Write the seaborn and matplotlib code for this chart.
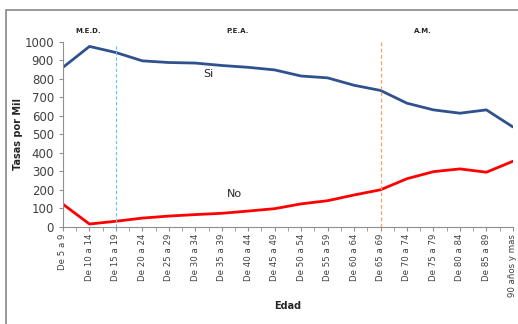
import pandas as pd
import numpy as np
import matplotlib
matplotlib.use('Agg')
from matplotlib import pyplot as plt
from matplotlib.patches import Rectangle
from matplotlib.ticker import MultipleLocator
import seaborn as sns

sns.set_style('white')
plt.rcParams['font.family'] = ['DejaVu Sans']

# datos
edades = ['De 5 a 9', 'De 10 a 14', 'De 15 a 19', 'De 20 a 24', 'De 25 a 29',
          'De 30 a 34', 'De 35 a 39', 'De 40 a 44', 'De 45 a 49', 'De 50 a 54',
          'De 55 a 59', 'De 60 a 64', 'De 65 a 69', 'De 70 a 74', 'De 75 a 79',
          'De 80 a 84', 'De 85 a 89', '90 años y mas']
si = [862, 975, 942, 897, 888, 885, 872, 862, 848, 815,
      805, 765, 737, 668, 632, 614, 632, 540]
no = [122, 15, 30, 47, 58, 66, 73, 85, 98, 124,
      141, 172, 200, 260, 298, 313, 295, 354]
grupos = ['M.E.D.', 'P.E.A.', 'A.M.']

df = pd.DataFrame({'pos': np.arange(len(edades)), 'Si': si, 'No': no})

fig = plt.figure(figsize=(5.18, 3.24), dpi=100)
ax = fig.add_axes([0.1216, 0.300, 0.8684, 0.571])

sns.lineplot(data=df, x='pos', y='Si', ax=ax, color='#2F528F', linewidth=2)
sns.lineplot(data=df, x='pos', y='No', ax=ax, color='#FF0000', linewidth=2)

# separadores de grupos
ax.vlines(2, 0, 985, colors='#5BC8E8', linestyles=(0, (3, 2)), linewidth=0.8)
ax.vlines(12, 0, 1000, colors='#F7A35C', linestyles=(0, (3, 2)), linewidth=0.9)

ax.set_xlim(0, 17)
ax.set_ylim(0, 1000)
ax.set_xticks(range(len(edades)))
ax.set_xticklabels(edades, rotation=90, fontsize=6.2, color='#404040')
ax.xaxis.set_minor_locator(MultipleLocator(0.5))
ax.set_yticks(range(0, 1001, 100))
ax.tick_params(axis='y', labelsize=8.5, length=3, direction='out', left=True,
               colors='#909090', labelcolor='#404040')
ax.tick_params(axis='x', which='both', length=3, direction='out', bottom=True,
               colors='#909090', labelcolor='#404040', pad=2)

for s in ['top', 'right']:
    ax.spines[s].set_visible(False)
for s in ['left', 'bottom']:
    ax.spines[s].set_color('#909090')
    ax.spines[s].set_linewidth(0.8)

ax.set_xlabel('Edad', fontsize=7, fontweight='bold')
ax.set_ylabel('Tasas por Mil', fontsize=7, fontweight='bold')
ax.xaxis.set_label_coords(0.5, -0.40)
ax.yaxis.set_label_coords(-0.09, 0.5)

ax.text(5.3, 810, 'Si', fontsize=8, color='#262626')
ax.text(6.2, 160, 'No', fontsize=8, color='#262626')
for x, t in zip([0.95, 6.6, 13.6], grupos):
    ax.text(x, 1050, t, fontsize=5, fontweight='bold', ha='center', color='#262626')

# marco del grafico
fig.add_artist(Rectangle((6 / 518, -0.1), 1.2, 1.1 - 10 / 324, transform=fig.transFigure,
                         fill=False, edgecolor='#888888', linewidth=1.2))

fig.savefig('out.png', dpi=100)
